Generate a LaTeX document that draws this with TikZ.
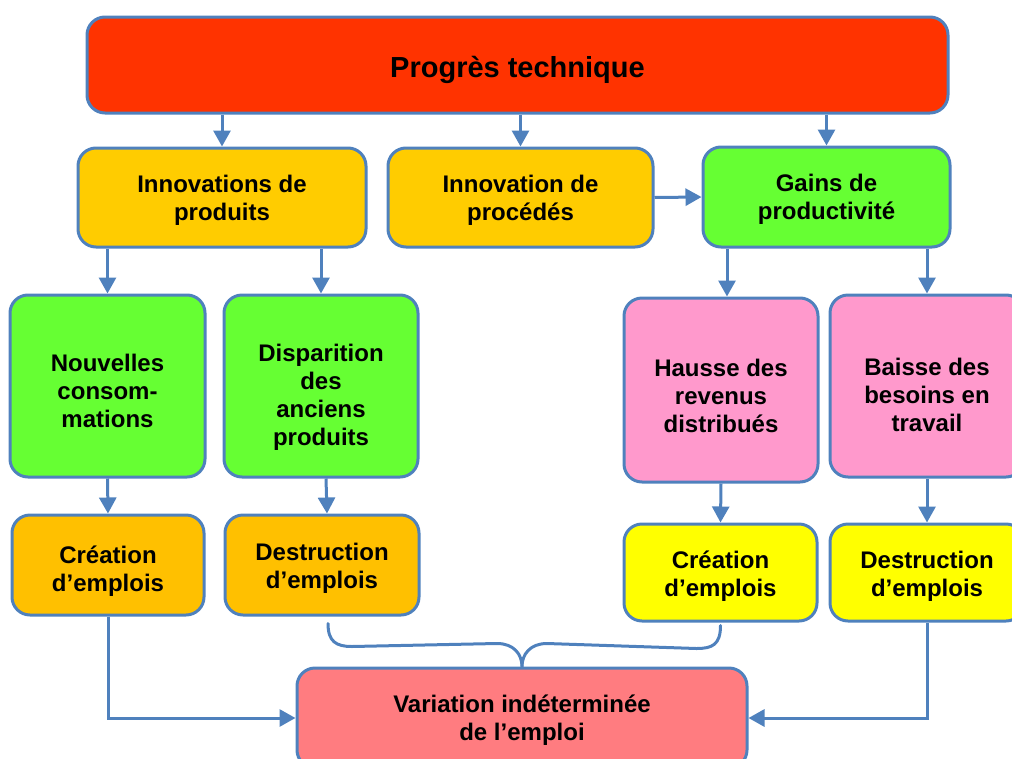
\documentclass[tikz,border=0pt]{standalone}
\usepackage{fontspec}
\setmainfont{Liberation Sans}
\usetikzlibrary{arrows.meta}
\definecolor{lineblue}{HTML}{4F81BD}
\definecolor{cred}{HTML}{FF3300}
\definecolor{corange}{HTML}{FFCC00}
\definecolor{cgreen}{HTML}{66FF33}
\definecolor{cpink}{HTML}{FF99CC}
\definecolor{camber}{HTML}{FFC000}
\definecolor{cyellow}{HTML}{FFFF00}
\definecolor{csalmon}{HTML}{FF7C80}
\newcommand\tup[1]{\rule{0pt}{#1pt}}
\tikzset{
  box/.style={draw=lineblue, line width=3pt, rounded corners=18pt, inner sep=0pt,
    align=center, font=\fontsize{24}{28}\selectfont\bfseries},
  arr/.style={draw=lineblue, line width=3pt, -{Triangle[length=16pt,width=17pt]}},
  conn/.style={draw=lineblue, line width=3pt},
}
\begin{document}
\begin{tikzpicture}[x=1pt,y=-1pt]
\useasboundingbox (0,0) rectangle (1012,758);
\clip (0,0) rectangle (1012,758);
% boxes
\node[box, fill=cred, minimum width=861, minimum height=96, font=\fontsize{29}{34}\selectfont\bfseries] (top) at (517.5,65) {\tup{31}Progrès technique};
\node[box, fill=corange, minimum width=288, minimum height=99] (inn) at (222,197.5) {\tup{23.5}Innovations de\\produits};
\node[box, fill=corange, minimum width=265, minimum height=99] (proc) at (520.5,197.5) {\tup{23.5}Innovation de\\procédés};
\node[box, fill=cgreen, minimum width=247, minimum height=100] (gains) at (826.5,197) {\tup{21.5}Gains de\\productivité};
\node[box, fill=cgreen, minimum width=195, minimum height=182] (nouv) at (107.5,386) {\tup{27.5}Nouvelles\\consom-\\mations};
\node[box, fill=cgreen, minimum width=194, minimum height=182] (disp) at (321,386) {\tup{39.5}Disparition\\des\\anciens\\produits};
\node[box, fill=cpink, minimum width=194, minimum height=184] (hausse) at (721,390) {\tup{29.5}Hausse des\\revenus\\distribués};
\node[box, fill=cpink, minimum width=194, minimum height=182] (baisse) at (927,386) {\tup{35.5}Baisse des\\besoins en\\travail};
\node[box, fill=camber, minimum width=192, minimum height=100] (crL) at (108,565) {\tup{29.5}Création\\d’emplois};
\node[box, fill=camber, minimum width=194, minimum height=100] (dL) at (322,565) {\tup{23.5}Destruction\\d’emplois};
\node[box, fill=cyellow, minimum width=193, minimum height=97] (crR) at (720.5,572.5) {\tup{25.5}Création\\d’emplois};
\node[box, fill=cyellow, minimum width=194, minimum height=97] (dR) at (927,572.5) {\tup{25.5}Destruction\\d’emplois};
\node[box, fill=csalmon, minimum width=450, minimum height=100] (var) at (522,718) {\tup{21.5}Variation indéterminée\\de l’emploi};
% arrows
\draw[arr] (top.south -| inn.north) -- (inn.north);
\draw[arr] (top.south -| proc.north) -- (proc.north);
\draw[arr] (top.south -| gains.north) -- (gains.north);
\draw[arr] (proc.east) -- (gains.west);
\draw[arr] (inn.south -| nouv.north) -- (nouv.north);
\draw[arr] (inn.south -| disp.north) -- (disp.north);
\draw[arr] ([xshift=6pt]gains.south -| hausse.north) -- ([xshift=6pt]hausse.north);
\draw[arr] (gains.south -| baisse.north) -- (baisse.north);
\draw[arr] (nouv.south) -- (crL.north);
\draw[arr] ([xshift=5pt]disp.south) -- ([xshift=5pt]dL.north);
\draw[arr] (hausse.south) -- (crR.north);
\draw[arr] (baisse.south) -- (dR.north);
\draw[arr] (crL.south) |- (var.west);
\draw[arr] (dR.south) |- (var.east);
% brace
\draw[conn, line cap=round] ([xshift=6pt,yshift=-7pt]dL.south) .. controls +(0,18) and +(-16,0) .. ++(24,23)
  -- ([xshift=-25pt,yshift=23pt]var.north) .. controls +(17,0) and +(0,-12) .. (var.north);
\draw[conn, line cap=round] ([yshift=-3pt]crR.south) .. controls +(0,19) and +(16,0) .. ++(-24,23)
  -- ([xshift=25pt,yshift=23pt]var.north) .. controls +(-17,0) and +(0,-12) .. (var.north);
\end{tikzpicture}
\end{document}
